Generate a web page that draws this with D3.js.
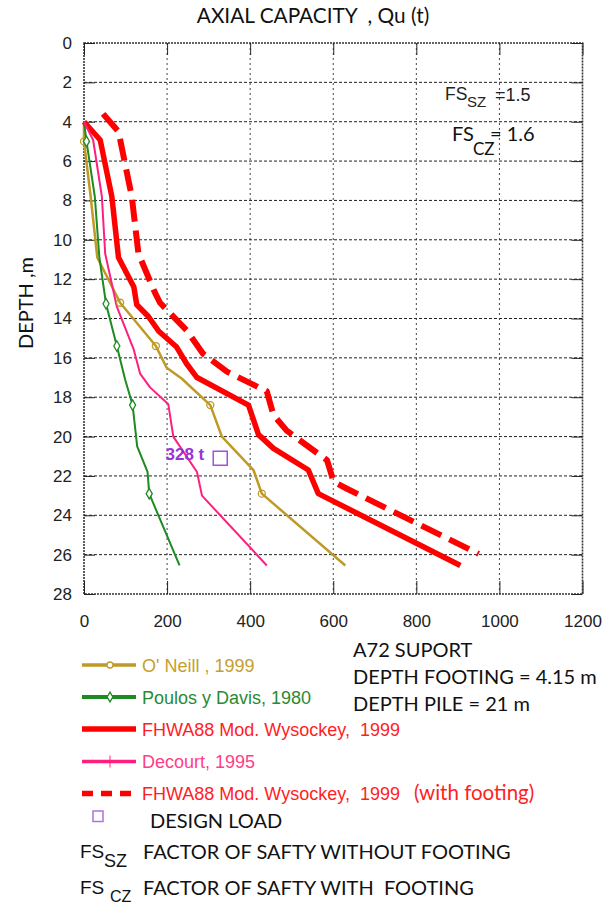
<!DOCTYPE html>
<html>
<head>
<meta charset="utf-8">
<script src="https://cdn.jsdelivr.net/npm/d3@7"></script>
<style>
  html, body { margin: 0; padding: 0; background: #fff; }
  svg { display: block; }
  .tick text { font-family: "Liberation Sans", Arial, sans-serif; font-size: 17px; fill: #222; }
  .cal { font-family: Lato, "Open Sans", sans-serif; }
  .ari { font-family: "Liberation Sans", Arial, sans-serif; }
</style>
</head>
<body>
<div id="chart"></div>
<script>
// ---- data (capacity in t, depth in m) ----
const quTicks = [0, 200, 400, 600, 800, 1000, 1200];
const depthTicks = [0, 2, 4, 6, 8, 10, 12, 14, 16, 18, 20, 22, 24, 26, 28];

const oneillDepth = [4, 5, 7.8, 10.9, 13.2, 15.4, 16.5, 17.05, 18.4, 20.0, 21.7, 22.9, 26.55];
const oneillQu    = [0, 0, 16, 32, 87, 173, 199, 235, 304, 332, 408, 428, 629];
const oneillMarks = [5, 13.2, 15.4, 18.4, 22.9];

const poulosDepth = [4, 5, 7.8, 10.9, 13.25, 15.4, 17.1, 18.4, 20.5, 21.8, 22.9, 26.55];
const poulosQu    = [0, 6, 26, 37, 53, 79, 99, 117, 128, 153, 157, 230];
const poulosMarks = [5, 13.25, 15.4, 18.4, 22.9];

const fhwaDepth = [4, 4.93, 7.8, 10.9, 12.4, 13.3, 13.9, 14.65, 15.45, 16.3, 17.0, 18.4, 19.9, 20.6, 21.7, 22.9, 26.55];
const fhwaQu    = [0, 39, 67, 83, 120, 127, 155, 180, 223, 247, 272, 396, 420, 456, 540, 564, 906];

const decourtDepth = [4, 4.93, 7.8, 10.7, 13.4, 15.6, 16.8, 17.5, 18.36, 20.0, 21.8, 23.0, 26.55];
const decourtQu    = [0, 22, 43, 51, 79, 120, 135, 159, 203, 215, 272, 284, 440];

const fhwaFootDepth = [3.6, 4.5, 7.8, 10.7, 12.7, 13.2, 14.6, 15.8, 16.7, 17.7, 18.9, 19.7, 21.2, 22.3, 22.65, 25.96];
const fhwaFootQu    = [46, 83, 115, 131, 171, 183, 247, 287, 344, 440, 456, 488, 585, 601, 633, 950];

const designLoad = { qu: 328, depth: 21, label: "328 t" };

const seriesNames = [
  "O' Neill , 1999",
  "Poulos y Davis, 1980",
  "FHWA88 Mod. Wysockey,  1999",
  "Decourt, 1995",
  "FHWA88 Mod. Wysockey,  1999"
];

const pairs = (qs, ds) => qs.map((q, i) => ({ qu: q, depth: ds[i] }));

const series = [
  { key: "oneill",  pts: pairs(oneillQu, oneillDepth),   color: "#BF9A26", text: "#C5A02E", w: 2.5, lw: 3.5, marker: "circle",  marks: oneillMarks },
  { key: "poulos",  pts: pairs(poulosQu, poulosDepth),   color: "#1E8A22", text: "#2A8A34", w: 2,   lw: 4,   marker: "diamond", marks: poulosMarks },
  { key: "fhwa",    pts: pairs(fhwaQu, fhwaDepth),       color: "#FF0000", text: "#FF1E1E", w: 5.5, lw: 5.5 },
  { key: "decourt", pts: pairs(decourtQu, decourtDepth), color: "#FF1F7E", text: "#FF3D86", w: 2,   lw: 3.5, marker: "plus" },
  { key: "fhwaFoot",pts: pairs(fhwaFootQu, fhwaFootDepth), color: "#FF0000", text: "#FF1E1E", w: 6, lw: 5.5, dash: "22,9", ldash: "11,8" }
];

// ---- drawing ----
const width = 613, height = 907;
const svg = d3.select("#chart").append("svg")
  .attr("width", width).attr("height", height)
  .attr("viewBox", `0 0 ${width} ${height}`)
  .attr("xml:space", "preserve");

const x = d3.scaleLinear().domain([0, 1200]).range([84, 582.5]);
const y = d3.scaleLinear().domain([0, 28]).range([43, 594]);

// grid
const grid = svg.append("g");
grid.selectAll("line.v")
  .data(quTicks.slice(1, -1))
  .join("line")
  .attr("x1", d => x(d)).attr("x2", d => x(d))
  .attr("y1", y(0)).attr("y2", y(28))
  .attr("stroke", "#444").attr("stroke-width", 1)
  .attr("stroke-dasharray", "2,3");
grid.selectAll("line.h")
  .data(depthTicks.slice(1, -1))
  .join("line")
  .attr("x1", x(0)).attr("x2", x(1200))
  .attr("y1", d => y(d)).attr("y2", d => y(d))
  .attr("stroke", "#222").attr("stroke-width", 1)
  .attr("stroke-dasharray", "3,2");

// frame
svg.append("rect")
  .attr("x", x(0)).attr("y", y(0))
  .attr("width", x(1200) - x(0)).attr("height", y(28) - y(0))
  .attr("fill", "none").attr("stroke", "#333").attr("stroke-width", 1.6)
  .attr("stroke-dasharray", "2,1");

// axes (inward ticks)
const axB = svg.append("g").attr("transform", `translate(0,${y(28)})`)
  .call(d3.axisBottom(x).tickValues(quTicks).tickFormat(d3.format("d"))
    .tickSizeInner(-13).tickSizeOuter(0).tickPadding(21));
const axL = svg.append("g").attr("transform", `translate(${x(0)},0)`)
  .call(d3.axisLeft(y).tickValues(depthTicks).tickSizeInner(-11).tickSizeOuter(0).tickPadding(12));
const axT = svg.append("g").attr("transform", `translate(0,${y(0)})`)
  .call(d3.axisTop(x).tickValues(quTicks).tickSizeInner(-12).tickSizeOuter(0).tickFormat(""));
const axR = svg.append("g").attr("transform", `translate(${x(1200)},0)`)
  .call(d3.axisRight(y).tickValues(depthTicks).tickSizeInner(-11).tickSizeOuter(0).tickFormat(""));
[axB, axL, axT, axR].forEach(a => {
  a.select(".domain").remove();
  a.selectAll(".tick line").attr("stroke", "#222");
});
axB.selectAll(".tick text").attr("font-size", 17);
axL.selectAll(".tick text").attr("font-size", 17);

// lines
const line = d3.line().x(d => x(d.qu)).y(d => y(d.depth));
const plot = svg.append("g");
series.forEach(s => {
  plot.append("path")
    .datum(s.pts)
    .attr("d", line)
    .attr("fill", "none")
    .attr("stroke", s.color)
    .attr("stroke-width", s.w)
    .attr("stroke-linejoin", "round")
    .attr("stroke-dasharray", s.dash || null);
});

// markers
function quAt(s, depth) {
  const p = s.pts.find(d => d.depth === depth);
  return p ? p.qu : 0;
}
series.filter(s => s.marks).forEach(s => {
  const g = plot.append("g");
  s.marks.forEach(dp => {
    const cx = x(quAt(s, dp)), cy = y(dp);
    if (s.marker === "circle") {
      g.append("circle").attr("cx", cx).attr("cy", cy).attr("r", 3.5)
        .attr("fill", "none").attr("stroke", s.color).attr("stroke-width", 1.3);
    } else {
      g.append("path").attr("d", d3.symbol(d3.symbolDiamond, 32)())
        .attr("transform", `translate(${cx},${cy})`)
        .attr("fill", "#fff").attr("stroke", s.color).attr("stroke-width", 1.3);
    }
  });
});

// design load
svg.append("rect")
  .attr("x", x(designLoad.qu) - 7).attr("y", y(designLoad.depth) - 5)
  .attr("width", 14).attr("height", 14)
  .attr("fill", "none").attr("stroke", "#A64DE0").attr("stroke-width", 1.5);
svg.append("text").attr("class", "ari")
  .attr("x", x(designLoad.qu) - 16).attr("y", y(designLoad.depth) + 3.5)
  .attr("text-anchor", "end")
  .attr("font-size", 17).attr("font-weight", "bold")
  .attr("fill", "#9933D6")
  .text(designLoad.label);

// title and axis label
svg.append("text").attr("class", "cal")
  .attr("x", 313).attr("y", 23).attr("text-anchor", "middle")
  .attr("font-size", 20.8).attr("fill", "#111")
  .style("white-space", "pre")
  .text("AXIAL CAPACITY  , Qu (t)");
svg.append("text").attr("class", "cal")
  .attr("transform", "translate(33,303) rotate(-90)")
  .attr("text-anchor", "middle")
  .attr("font-size", 20).attr("fill", "#111")
  .text("DEPTH ,m");

// FS notes inside the plot
const fs1 = svg.append("text").attr("class", "ari").attr("fill", "#222");
fs1.append("tspan").attr("x", 445).attr("y", 100).attr("font-size", 17.5).text("FS");
fs1.append("tspan").attr("x", 467).attr("y", 107).attr("font-size", 15).text("SZ");
fs1.append("tspan").attr("x", 495).attr("y", 101).attr("font-size", 18).text("=1.5");

const fs2 = svg.append("text").attr("class", "cal").attr("fill", "#111");
fs2.append("tspan").attr("x", 452).attr("y", 141).attr("font-size", 20).text("FS");
fs2.append("tspan").attr("x", 473).attr("y", 155).attr("font-size", 17).text("CZ");
fs2.append("tspan").attr("x", 490).attr("y", 141).attr("font-size", 20).text("= 1.6");

// support notes
const notes = ["A72 SUPORT", "DEPTH FOOTING = 4.15 m", "DEPTH PILE = 21 m"];
svg.append("g").selectAll("text")
  .data(notes)
  .join("text").attr("class", "cal")
  .attr("x", 353).attr("y", (d, i) => 657 + i * 27)
  .attr("font-size", 20).attr("fill", "#111")
  .text(d => d);

// legend
const legY = [665, 697, 729, 761.5, 793.5];
const leg = svg.append("g");
series.forEach((s, i) => {
  const ly = legY[i];
  leg.append("line")
    .attr("x1", 82).attr("x2", 136).attr("y1", ly).attr("y2", ly)
    .attr("stroke", s.color).attr("stroke-width", s.lw)
    .attr("stroke-dasharray", s.ldash || null);
  if (s.marker === "circle") {
    leg.append("circle").attr("cx", 110).attr("cy", ly).attr("r", 3)
      .attr("fill", "#fff").attr("stroke", s.color).attr("stroke-width", 1.3);
  } else if (s.marker === "diamond") {
    leg.append("path").attr("d", d3.symbol(d3.symbolDiamond, 28)())
      .attr("transform", `translate(110,${ly})`)
      .attr("fill", "#fff").attr("stroke", s.color).attr("stroke-width", 1.3);
  } else if (s.marker === "plus") {
    leg.append("line").attr("x1", 110).attr("x2", 110).attr("y1", ly - 6).attr("y2", ly + 6)
      .attr("stroke", s.color).attr("stroke-width", 1);
  }
  leg.append("text").attr("class", "ari")
    .attr("x", 142).attr("y", ly + 6.5)
    .attr("font-size", 18).attr("fill", s.text)
    .style("white-space", "pre")
    .text(seriesNames[i]);
});
leg.append("text").attr("class", "cal")
  .attr("x", 414).attr("y", legY[4] + 6.5)
  .attr("font-size", 20.5).attr("fill", "#FF1E1E")
  .text("(with footing)");

leg.append("rect").attr("x", 93).attr("y", 811).attr("width", 10).attr("height", 10.5)
  .attr("fill", "none").attr("stroke", "#B070E0").attr("stroke-width", 1.5);
leg.append("text").attr("class", "cal")
  .attr("x", 150).attr("y", 828).attr("font-size", 20).attr("fill", "#111")
  .text("DESIGN LOAD");

const fsRows = [
  { sub: "SZ", y: 858, subX: 104, subY: 867, subSize: 18, text: "FACTOR OF SAFTY WITHOUT FOOTING" },
  { sub: "CZ", y: 894, subX: 110, subY: 902, subSize: 16, text: "FACTOR OF SAFTY WITH  FOOTING" }
];
fsRows.forEach(r => {
  const t = leg.append("text").attr("class", "ari").attr("fill", "#111");
  t.append("tspan").attr("x", 80).attr("y", r.y).attr("font-size", 19).text("FS");
  t.append("tspan").attr("x", r.subX).attr("y", r.subY).attr("font-size", r.subSize).text(r.sub);
  leg.append("text").attr("class", "cal")
    .attr("x", 143).attr("y", r.y + 1).attr("font-size", 20).attr("fill", "#111")
    .style("white-space", "pre")
    .text(r.text);
});
</script>
</body>
</html>
